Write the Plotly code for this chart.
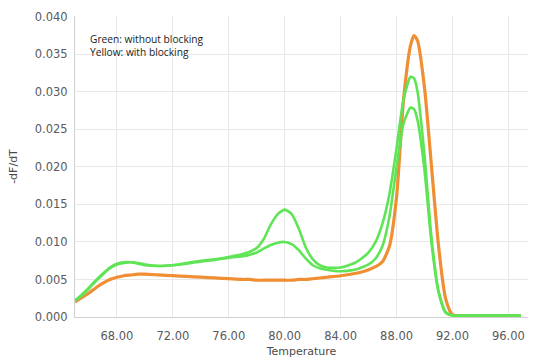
import plotly.graph_objects as go

# Melt-curve derivative readings (-dF/dT) against temperature
temp = [65.0, 65.5, 66.0, 66.5, 67.0, 67.5, 68.0, 68.5, 69.0, 69.5, 70.0, 71.0, 72.0, 73.0,
        74.0, 75.0, 76.0, 77.0, 77.5, 78.0, 78.5, 79.0, 79.5, 80.0, 80.5, 81.0, 81.5, 82.0,
        82.5, 83.0, 84.0, 85.0, 85.5, 86.0, 86.5, 87.0, 87.5, 88.0, 88.5, 89.0, 89.25, 89.5,
        90.0, 90.5, 91.0, 91.5, 92.0, 93.0, 94.0, 95.0, 96.0, 96.9]

green_a = [0.0022, 0.0030, 0.0039, 0.0049, 0.0058, 0.0066, 0.0071, 0.0073, 0.0073, 0.0072, 0.0070,
           0.0068, 0.0069, 0.0072, 0.0075, 0.0077, 0.0080, 0.0084, 0.0087, 0.0092, 0.0104, 0.0123,
           0.0137, 0.0143, 0.0137, 0.0118, 0.0093, 0.0077, 0.0069, 0.0066, 0.0066, 0.0072, 0.0078,
           0.0086, 0.0100, 0.0125, 0.0165, 0.0225, 0.0290, 0.0320, 0.0318, 0.0300, 0.0215, 0.0105,
           0.0035, 0.0007, 0.0002, 0.0002, 0.0002, 0.0002, 0.0002, 0.0002]

green_b = [0.0022, 0.0029, 0.0038, 0.0048, 0.0057, 0.0065, 0.0070, 0.0072, 0.0073, 0.0071, 0.0069,
           0.0068, 0.0069, 0.0071, 0.0074, 0.0076, 0.0079, 0.0081, 0.0083, 0.0086, 0.0091, 0.0096,
           0.0099, 0.0100, 0.0097, 0.0089, 0.0078, 0.0069, 0.0065, 0.0063, 0.0061, 0.0063, 0.0066,
           0.0070, 0.0078, 0.0095, 0.0135, 0.0200, 0.0258, 0.0279, 0.0277, 0.0262, 0.0195, 0.0098,
           0.0033, 0.0006, 0.0002, 0.0002, 0.0002, 0.0002, 0.0002, 0.0002]

orange = [0.0020, 0.0026, 0.0032, 0.0039, 0.0045, 0.0050, 0.0053, 0.0055, 0.0056, 0.0057, 0.0057,
          0.0056, 0.0055, 0.0054, 0.0053, 0.0052, 0.0051, 0.0050, 0.0050, 0.0049, 0.0049, 0.0049,
          0.0049, 0.0049, 0.0049, 0.0050, 0.0050, 0.0051, 0.0052, 0.0053, 0.0055, 0.0058, 0.0060,
          0.0063, 0.0067, 0.0074, 0.0095, 0.0160, 0.0290, 0.0362, 0.0375, 0.0368, 0.0305, 0.0200,
          0.0095, 0.0025, 0.0003, 0.0002, 0.0002, 0.0002, 0.0002, 0.0002]

x_ticks = [68, 72, 76, 80, 84, 88, 92, 96]
y_ticks = [0.000, 0.005, 0.010, 0.015, 0.020, 0.025, 0.030, 0.035, 0.040]

GREEN = "rgb(95,228,85)"
ORANGE = "rgb(240,142,52)"
TICK_FONT = dict(family="DejaVu Sans", size=11.5, color="#5a5a5a")
TITLE_FONT = dict(family="DejaVu Sans", size=11, color="#4a4a4a")

fig = go.Figure()
fig.add_trace(go.Scatter(x=temp, y=orange, mode="lines", line=dict(color=ORANGE, width=3.2, shape="spline", smoothing=0.6)))
fig.add_trace(go.Scatter(x=temp, y=green_b, mode="lines", line=dict(color=GREEN, width=2.6, shape="spline", smoothing=0.6)))
fig.add_trace(go.Scatter(x=temp, y=green_a, mode="lines", line=dict(color=GREEN, width=2.6, shape="spline", smoothing=0.6)))

fig.update_layout(
    width=535, height=361,
    margin=dict(l=75, r=7, t=16, b=44),
    paper_bgcolor="white", plot_bgcolor="white",
    showlegend=False,
    font=dict(family="DejaVu Sans", size=11, color="#5a5a5a"),
    xaxis=dict(
        range=[65, 97.4], tickvals=x_ticks, ticktext=[f"{v:.2f}" for v in x_ticks],
        showgrid=True, gridcolor="#e8e8e8", gridwidth=1,
        showline=True, linecolor="#d0d0d0", mirror=False, zeroline=False,
        ticks="outside", ticklen=8, tickcolor="rgba(0,0,0,0)", tickfont=TICK_FONT,
        title=dict(text="Temperature", font=TITLE_FONT, standoff=5),
    ),
    yaxis=dict(
        range=[0, 0.0401], tickvals=y_ticks, ticktext=[f"{v:.3f}" for v in y_ticks],
        showgrid=True, gridcolor="#e8e8e8", gridwidth=1,
        showline=True, linecolor="#d0d0d0", zeroline=False,
        ticks="outside", ticklen=4, tickcolor="rgba(0,0,0,0)", tickfont=TICK_FONT,
        title=dict(text="-dF/dT", font=TITLE_FONT, standoff=14),
    ),
    annotations=[
        dict(text="Green: without blocking<br>Yellow: with blocking", xref="paper", yref="paper",
             x=0.028, y=0.955, xanchor="left", yanchor="top", align="left", showarrow=False,
             font=dict(family="Open Sans", size=10.2, color="#222222")),
    ],
)

fig.write_html("out.html")
